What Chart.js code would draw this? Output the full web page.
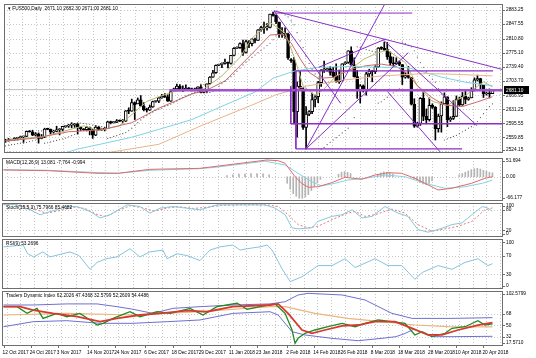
<!DOCTYPE html>
<html>
<head>
<meta charset="utf-8">
<script src="https://cdn.jsdelivr.net/npm/chart.js@4.4.1/dist/chart.umd.min.js"></script>
<style>
  body { margin: 0; background: #fff; width: 536px; height: 358px; overflow: hidden; position: relative; }
  canvas { position: absolute; left: 0; }
</style>
</head>
<body>
<canvas id="cMain" width="536" height="157" style="top:0"></canvas>
<canvas id="cMacd" width="536" height="45" style="top:157px"></canvas>
<canvas id="cStoch" width="536" height="36" style="top:202px"></canvas>
<canvas id="cRsi" width="536" height="52" style="top:238px"></canvas>
<canvas id="cTdi" width="536" height="68" style="top:290px"></canvas>
<script>
// ---- price data (one bar per day, Sunday bars included) ----
const opens = [2552,2551,2553,2554,2557,2559,2561,2562,2575,2574,2565,2569,2557,2560,2581,2580,2573,2575,2579,2580,
  2587,2588,2591,2591,2594,2585,2580,2579,2585,2579,2565,2586,2579,2580,2582,2599,2597,2598,2602,2601,
  2601,2627,2626,2648,2645,2655,2639,2630,2629,2637,2651,2652,2660,2664,2663,2652,2678,2683,2690,2681,
  2679,2685,2683,2680,2683,2688,2674,2678,2696,2713,2724,2743,2745,2748,2751,2748,2768,2786,2788,2798,
  2776,2803,2798,2808,2806,2833,2839,2838,2839,2873,2870,2853,2822,2824,2822,2757,2755,2625,2690,2683,
  2585,2619,2625,2656,2663,2699,2731,2732,2734,2725,2716,2701,2704,2747,2750,2780,2744,2714,2678,2691,
  2680,2721,2728,2727,2739,2787,2786,2783,2765,2749,2747,2752,2745,2713,2717,2712,2644,2588,2595,2659,
  2613,2605,2641,2636,2582,2614,2645,2663,2604,2608,2613,2657,2642,2664,2656,2660,2678,2706,2709,2693,
  2670,2672,2671];
const highs = [2555,2557,2555,2559,2560,2563,2563,2576,2577,2578,2572,2571,2567,2583,2583,2581,2578,2588,2582,2588,
  2589,2593,2597,2595,2595,2587,2582,2588,2586,2580,2590,2588,2581,2585,2601,2601,2600,2605,2604,2605,
  2628,2635,2657,2650,2660,2666,2648,2634,2642,2652,2653,2661,2669,2671,2668,2679,2685,2695,2694,2691,
  2693,2686,2685,2685,2688,2693,2680,2696,2714,2730,2744,2746,2749,2759,2751,2768,2788,2790,2800,2807,
  2807,2806,2811,2812,2834,2842,2853,2849,2873,2878,2871,2853,2839,2838,2825,2760,2763,2701,2727,2686,
  2638,2628,2672,2667,2702,2732,2754,2736,2740,2738,2747,2731,2747,2752,2780,2790,2762,2730,2694,2693,
  2725,2733,2730,2742,2788,2790,2802,2801,2777,2764,2762,2754,2745,2725,2740,2712,2658,2598,2661,2675,
  2632,2660,2645,2638,2619,2650,2673,2663,2612,2653,2665,2662,2674,2680,2662,2686,2711,2718,2710,2694,
  2675,2683,2682];
const lows = [2547,2550,2552,2552,2553,2557,2547,2561,2573,2564,2563,2545,2556,2559,2579,2568,2570,2574,2566,2576,
  2585,2585,2584,2585,2568,2577,2577,2576,2566,2557,2564,2577,2577,2576,2582,2594,2596,2597,2600,2596,
  2600,2620,2626,2605,2645,2639,2627,2624,2628,2636,2649,2648,2659,2661,2651,2651,2677,2682,2680,2676,
  2679,2680,2678,2678,2682,2673,2673,2674,2695,2712,2722,2742,2737,2746,2736,2746,2767,2785,2786,2768,
  2774,2788,2792,2800,2806,2830,2824,2832,2838,2868,2849,2814,2814,2812,2758,2750,2594,2560,2681,2580,
  2530,2615,2620,2637,2648,2689,2725,2728,2718,2713,2700,2697,2703,2745,2748,2743,2713,2659,2647,2675,
  2667,2714,2701,2722,2737,2783,2780,2758,2744,2741,2745,2742,2694,2710,2710,2642,2585,2586,2590,2602,
  2594,2601,2633,2553,2573,2573,2645,2587,2600,2605,2613,2640,2641,2645,2654,2660,2678,2703,2681,2661,
  2667,2660,2671];
const closes = [2551,2553,2554,2557,2559,2561,2562,2575,2574,2565,2569,2557,2560,2581,2580,2573,2575,2579,2580,2588,
  2588,2591,2591,2594,2585,2582,2579,2585,2579,2565,2586,2579,2580,2582,2599,2597,2598,2602,2601,2601,
  2627,2626,2648,2642,2655,2639,2630,2629,2637,2651,2652,2660,2664,2663,2652,2676,2683,2690,2681,2679,
  2685,2683,2680,2683,2688,2674,2678,2696,2713,2724,2743,2745,2748,2751,2748,2768,2786,2788,2798,2776,
  2803,2798,2810,2806,2833,2839,2838,2839,2873,2870,2853,2822,2824,2822,2762,2755,2625,2690,2683,2585,
  2619,2625,2656,2663,2699,2731,2732,2734,2725,2716,2701,2704,2747,2750,2780,2744,2714,2678,2691,2680,
  2721,2728,2727,2739,2787,2786,2783,2765,2749,2747,2752,2745,2713,2717,2712,2644,2588,2595,2659,2613,
  2605,2641,2636,2582,2614,2645,2663,2604,2608,2613,2657,2642,2664,2656,2660,2678,2706,2709,2693,2670,
  2672,2670,2681];
const sar = [2538,2540,2541,2542,2544,2545,2545,2547,2549,2551,2553,2576,2576,2545,2546,2548,2550,2552,2554,2556,
  2558,2561,2564,2567,2597,2596,2595,2594,2593,2591,2589,2588,2587,2586,2557,2559,2562,2564,2567,2569,
  2572,2577,2583,2590,2597,2604,2610,2615,2620,2624,2628,2631,2634,2638,2641,2644,2648,2652,2657,2661,
  2665,2668,2671,2674,2676,2695,2694,2673,2674,2677,2682,2689,2696,2702,2708,2714,2720,2728,2736,2744,
  2751,2757,2763,2769,2775,2781,2787,2793,2799,2808,2818,2878,2875,2871,2866,2856,2846,2826,2805,2788,
  2766,2748,2733,2721,2710,2530,2534,2541,2547,2553,2559,2565,2571,2577,2583,2595,2610,2790,2788,2786,
  2783,2781,2779,2777,2647,2650,2656,2662,2668,2673,2678,2683,2802,2798,2794,2790,2780,2764,2750,2738,
  2727,2717,2708,2700,2684,2670,2553,2556,2559,2562,2565,2569,2574,2578,2583,2587,2592,2600,2610,2620,
  2630,2638,2645];

// moving averages: [bar index, price]
const maFast = [[0,2552],[13,2562],[26,2589],[31,2577],[38,2589],[41,2611],[47,2651],[51,2663],[56,2676],[66,2683],
  [72,2716],[78,2763],[82,2812],[88,2852],[93,2825],[96,2765],[99,2691],[103,2666],[106,2683],[110,2716],
  [115,2733],[119,2758],[124,2775],[127,2782],[133,2750],[137,2691],[142,2651],[147,2641],[153,2666],[159,2701],[162,2688]];
const maMid = [[0,2550],[10,2558],[21,2574],[32,2579],[42,2597],[51,2634],[62,2670],[67,2680],[73,2703],[83,2780],
  [88,2820],[92,2822],[95,2800],[98,2760],[101,2725],[104,2710],[109,2712],[115,2733],[120,2742],[125,2746],
  [130,2740],[134,2720],[137,2691],[142,2660],[146,2642],[152,2638],[157,2650],[162,2663]];
const maSlow = [[18,2516],[24,2530],[32,2543],[42,2560],[51,2580],[62,2605],[73,2642],[83,2675],[89,2710],[96,2728],
  [104,2738],[115,2740],[125,2738],[134,2737],[145,2713],[153,2700],[162,2691]];
const maLong = [[30,2516],[51,2542],[65,2589],[83,2645],[90,2668],[100,2690],[112,2705],[125,2716],[140,2722],[150,2720],[162,2716]];

// drawn objects: [index1, price1, index2, price2, width]
const trendLines = [
  [89.4,2875.8,135.3,2875.8,1], [89.3,2881.5,165.5,2732,1], [89.3,2881.5,111.5,2646.3,1],
  [99.9,2530,126.4,2902,1], [99.9,2530,134,2775,1], [104.2,2737.9,126.4,2809.7,1],
  [125.7,2807.2,156.9,2589.4,1], [127.1,2676,144.6,2522.7,1],
  [96.6,2728.7,162.2,2728.7,1.3], [94.9,2594.3,165.5,2594.3,1.3], [96.6,2530.6,151.9,2530.6,1.3],
  [96.6,2728.7,96.6,2530.6,1], [94.9,2690,94.9,2594.3,1],
  [54.5,2679.7,165.5,2679.7,2.6]
];
const bidPrice = 2681.10;
const priceTicks = [2883.25,2847.55,2810.80,2775.10,2739.40,2703.70,2666.95,2631.25,2595.55,2559.85,2524.15];

// MACD
const macdMain = [[0,20.9],[15,18.8],[31,10.8],[38,10.8],[48.5,23],[65,26],[69.4,31],[87.3,51.7],[91,49.5],[93.3,41.5],
  [96.6,0.3],[98.8,-20],[101,-32.3],[104.2,-30.5],[108.7,-18.2],[113.2,-1.5],[118.7,-7.7],[123.1,5.5],[127.4,12.6],
  [131.9,10.8],[136.3,-4.6],[140.7,-25.2],[144,-40.6],[148.5,-35.4],[155.1,-20],[159.5,-4.6],[162,0.3]];
const macdSignal = [[0,22],[15,20],[31,13],[38,11],[48.5,20],[65,25],[70,29],[86.6,48],[93.3,36.3],[97.6,10.8],
  [102.1,-15],[105.4,-28.3],[109.8,-20],[114.1,-9.8],[119.8,-4.6],[126.4,5.5],[133,0.3],[139.7,-20],[146.3,-35.4],
  [152.9,-30.5],[158.6,-20],[162,-9.8]];
const macdHist = [[74,4],[76,6],[78,8],[80,8],[82,10],[84,10],[86,9],[88,6],
  [94,-20],[95,-38],[96,-52],[97,-60],[98,-66],[99,-66],[100,-62],[101,-55],[102,-42],[103,-30],[104,-18],[105,-8],
  [111,8],[112,14],[113,16],[114,14],[115,10],[124,8],[125,12],[126,15],[127,14],[128,12],[129,8],
  [136,-6],[137,-12],[138,-18],[139,-22],[140,-24],[141,-20],[142,-12],
  [151,6],[152,10],[153,14],[154,18],[155,22],[156,25],[157,26],[158,24],[159,20],[160,17],[161,14],[162,12]];
const macdTicks = [51.694, 0, -66.177];

// Stochastic
const stochMain = [[0,96],[4,96],[8.8,80],[12.1,65.5],[21,89.6],[24.4,89.6],[28.7,75],[32,56],[35.3,65.5],[40.9,94.5],
  [45.2,89.6],[48.5,70.4],[51.9,84.9],[56.2,89.6],[65.1,80],[70.7,94.5],[76,94.5],[86.6,94.5],[90,84.9],[93.3,65.5],
  [95.6,27],[97.6,24],[102.2,27],[104.2,46],[108.8,60.6],[112.2,65.5],[115.5,80],[118.8,56],[122.1,60.6],[126.4,89.6],
  [130.7,70.4],[134,60.6],[137.3,22],[140.7,14.2],[144,22],[148.6,36.5],[151.9,41.4],[155.2,65.5],[158.6,89.6],[160.5,84.9],[162,75.8]];
const stochSignal = [[0,95],[5,95],[10,84],[14,70],[19,78],[23,88],[27,84],[31,66],[34,60],[38,78],[42,92],[46,86],[50,76],
  [54,85],[58,89],[63,84],[68,88],[72,93],[80,95],[88,94],[91,89.6],[94.3,65.5],[97.6,36.5],[100.9,27],[104.2,31.6],
  [108.8,51],[114.1,70.4],[116.5,75],[119.8,60.6],[123.1,65.5],[128.7,82],[133,70.4],[137.3,36.5],[142,17],[146.3,24],
  [150.6,31.6],[155.2,46],[159.5,80],[162,85.5]];

// RSI
const rsiLine = [[0,90],[6.5,94],[8,75],[10,68],[13,79],[15.4,68],[22,79],[25,71],[28.7,41],[31,56],[34,64],[37.6,68],
  [41.9,86],[45.2,68],[48.5,79],[52.8,83],[54.2,64],[57.5,75],[60.8,71],[65.1,60],[68.4,83],[71.7,90],[76,94],[78.4,83],
  [80.7,86],[85,90],[87.3,94],[89,83],[92.3,42],[95,14],[99,25],[104.2,49],[108.8,49],[113.2,64],[116.5,45],[123.1,64],
  [127.4,49],[132,49],[136.3,19],[138.7,34],[144,49],[148.6,41],[152.9,56],[157.2,64],[160.5,49],[162,53.3]];

// Traders Dynamic Index
const tdiUpper = [[0,82.3],[9.8,82.3],[21,84],[31,84],[37.6,79.6],[42.9,75.5],[49.5,69],[56.2,77],[65.1,79.6],[76,82.3],
  [88.3,84],[93.3,87.5],[97.6,98.2],[100.9,100.8],[112.2,98.2],[119.8,90.2],[128.7,69],[135.4,61],[148.6,61],[162,62.2]];
const tdiLower = [[0,47.8],[9.8,55.8],[21,57.4],[32,53.2],[42.9,53.2],[54.2,55.8],[65.1,58.5],[76,69],[88.3,71.6],[91,66.4],
  [95.6,39.9],[99.9,34.7],[108.8,29.4],[117.5,25.6],[125.4,29.4],[130,32],[133,37],[136,44],[139,38],[142,32],[148.6,32],[162,32.6]];
const tdiBase = [[0,66.4],[21,69],[42.9,66.4],[65.1,71.6],[88.3,79.6],[93.3,79.6],[103.2,69],[114.1,61],[125.4,55.8],
  [136.3,50.5],[147.3,47.8],[162,47.4]];
const tdiPrice = [[0,79.6],[4.5,79.6],[7.8,69],[11.1,77],[13.1,61],[17.7,69],[21,63.7],[25.3,69],[28.7,58.5],[31,50.5],
  [33,53.2],[36.3,61],[41.9,71.6],[45.2,63.7],[50.9,71.6],[55.2,69],[61.8,77],[66.1,66.4],[70.7,79.6],[77.4,85],[80.7,75.5],
  [85,79.6],[88.3,82.3],[90,84],[93.3,69],[95.6,42.6],[96.6,21.5],[97.6,29.4],[99.9,37.4],[103.2,42.6],[107.5,47.8],
  [112.2,53.2],[116.5,47.8],[119.8,53.2],[124.1,58.5],[128.7,55.8],[133,53.2],[136.3,34.7],[138.7,39.9],[142,32],
  [146.3,37.4],[148.6,45.3],[152.9,47.8],[157.2,57.4],[159.5,50.5],[162,52.3]];
const tdiSignal = [[0,79.6],[5.5,79.6],[9.8,74.3],[16.4,69],[24.4,63.7],[32,55.8],[37.6,61],[45.2,66.4],[51.9,69],[60.8,73.2],
  [67.4,71.6],[76,79.6],[88.3,82.3],[91,84],[94.3,69],[98.9,42.6],[102.2,37.4],[106.5,42.6],[112.2,49],[117.5,50.5],
  [123.1,55.8],[129.7,55.8],[135.4,45.3],[140.7,34.7],[145.3,34.7],[150.6,42.6],[157.2,50.5],[160.5,53.2],[162,54.4]];

const dateLabels = ['12 Oct 2017','24 Oct 2017','3 Nov 2017','14 Nov 2017','24 Nov 2017','6 Dec 2017','18 Dec 2017',
  '29 Dec 2017','11 Jan 2018','23 Jan 2018','2 Feb 2018','14 Feb 2018','26 Feb 2018','8 Mar 2018','18 Mar 2018',
  '28 Mar 2018','10 Apr 2018','20 Apr 2018'];
const dateIdx = [0,9,18,28,37,47,56,65,75,84,94,103,112,122,131,141,150,159];

const FONT = '4.8px "Liberation Sans", Arial, sans-serif';
const X_MIN = -0.5, X_MAX = 165.5;

// vertical grid at every date label and halfway between
const vGrid = [];
dateIdx.forEach((d, k) => {
  vGrid.push(d + 1);
  const next = k < dateIdx.length - 1 ? dateIdx[k + 1] : d + 9;
  vGrid.push((d + next) / 2 + 1);
});

const mt4 = {
  id: 'mt4',
  beforeDatasetsDraw(chart, args, o) {
    const { ctx, chartArea: a, scales: { x, y } } = chart;
    ctx.save();
    ctx.strokeStyle = '#c8c8c8';
    ctx.lineWidth = 1;
    ctx.setLineDash([1, 2]);
    ctx.beginPath();
    vGrid.forEach(i => {
      const px = Math.round(x.getPixelForValue(i)) + 0.5;
      if (px > a.left && px < a.right) { ctx.moveTo(px, a.top); ctx.lineTo(px, a.bottom); }
    });
    (o.hgrid || []).forEach(v => {
      const py = Math.round(y.getPixelForValue(v)) + 0.5;
      ctx.moveTo(a.left, py); ctx.lineTo(a.right, py);
    });
    ctx.stroke();
    ctx.restore();
  },
  afterDatasetsDraw(chart, args, o) {
    const { ctx, chartArea: a, scales: { x, y } } = chart;
    ctx.save();
    ctx.strokeStyle = '#6e6e6e';
    ctx.lineWidth = 1;
    ctx.strokeRect(a.left + 0.5, a.top + 0.5, a.right - a.left - 1, a.bottom - a.top - 1);
    ctx.font = FONT;
    ctx.fillStyle = '#000';
    ctx.textBaseline = 'middle';
    ctx.textAlign = 'left';
    (o.ticks || []).forEach(v => {
      let py = y.getPixelForValue(v);
      py = Math.min(Math.max(py, a.top + 3), a.bottom - 3);
      ctx.fillText(o.fmt(v), a.right + 3, py);
      ctx.beginPath();
      ctx.moveTo(a.right, Math.round(py) + 0.5); ctx.lineTo(a.right + 2, Math.round(py) + 0.5);
      ctx.stroke();
    });
    if (o.title) ctx.fillText(o.title, a.left + 4, a.top + 5);
    if (o.tag != null) {
      const py = Math.round(y.getPixelForValue(o.tag));
      ctx.fillStyle = '#000';
      ctx.fillRect(a.right + 1, py - 4, 25, 8);
      ctx.fillStyle = '#fff';
      ctx.fillText(o.fmt(o.tag), a.right + 3, py + 0.5);
    }
    if (o.dates) {
      ctx.fillStyle = '#000';
      ctx.textBaseline = 'top';
      dateLabels.forEach((t, k) => {
        const px = x.getPixelForValue(dateIdx[k]);
        ctx.fillText(t, px - 1, a.bottom + 4);
        ctx.beginPath();
        ctx.moveTo(Math.round(px) + 0.5, a.bottom); ctx.lineTo(Math.round(px) + 0.5, a.bottom + 2);
        ctx.stroke();
      });
    }
    ctx.restore();
  }
};
Chart.register(mt4);

function lineDs(points, color, width, extra) {
  return Object.assign({
    type: 'line',
    data: points.map(p => ({ x: p[0], y: p[1] })),
    borderColor: color, borderWidth: width, pointRadius: 0, tension: 0, fill: false, order: 5
  }, extra || {});
}

function baseOptions(pad, yMin, yMax, plug) {
  return {
    responsive: false, animation: false, events: [],
    devicePixelRatio: 1,
    layout: { padding: { left: 2, right: 33, top: pad[0], bottom: pad[1] } },
    plugins: { legend: { display: false }, tooltip: { enabled: false }, mt4: plug },
    scales: {
      x: { type: 'linear', min: X_MIN, max: X_MAX, display: false, offset: false },
      y: { type: 'linear', min: yMin, max: yMax, display: false }
    }
  };
}

// ---- main price chart ----
const wickData = highs.map((h, i) => ({ x: i, y: [lows[i], h] }));
const bodyData = opens.map((o, i) => ({ x: i, y: [o, closes[i]] }));
const bodyFill = opens.map((o, i) => closes[i] >= o ? '#ffffff' : '#000000');

const mainSets = [
  { type: 'bar', data: wickData, backgroundColor: '#000', barThickness: 1, grouped: false, order: 10 },
  { type: 'bar', data: bodyData, backgroundColor: bodyFill, borderColor: '#000', borderWidth: 1,
    borderSkipped: false, barThickness: 3, minBarLength: 1, grouped: false, order: 9 },
  lineDs(maLong, '#e9b48e', 1),
  lineDs(maSlow, '#7fd3e4', 1),
  lineDs(maMid, '#c96a6a', 1),
  lineDs(maFast, '#b8b66c', 1),
  lineDs(sar.map((v, i) => [i, v]), '#000', 0, { showLine: false, pointRadius: 0.6, pointBackgroundColor: '#555', pointBorderWidth: 0, order: 4 }),
  lineDs([[X_MIN, bidPrice], [X_MAX, bidPrice]], '#bdbdbd', 1, { order: 6 })
];
trendLines.forEach(t => {
  mainSets.push(lineDs([[t[0], t[1]], [t[2], t[3]]], t[4] > 2 ? '#a44fd0' : '#8a2fc8', t[4], { order: 1 }));
});

new Chart(document.getElementById('cMain'), {
  type: 'bar',
  data: { datasets: mainSets },
  options: baseOptions([3, 1], 2519.94, 2898.85, {
    hgrid: priceTicks, ticks: priceTicks, fmt: v => v.toFixed(2), tag: bidPrice,
    title: '\u25BE FUS500,Daily  2671.10 2682.30 2671.00 2681.10'
  })
});

// ---- MACD ----
new Chart(document.getElementById('cMacd'), {
  type: 'bar',
  data: { datasets: [
    { type: 'bar', data: macdHist.map(p => ({ x: p[0], y: p[1] })), backgroundColor: '#b4b4b4', barThickness: 1, grouped: false, order: 9 },
    lineDs(macdSignal, '#86d2e2', 1),
    lineDs(macdMain, '#e06a6a', 1, { order: 4 })
  ] },
  options: baseOptions([1, 1], -74.46, 57.85, {
    hgrid: [0], ticks: macdTicks, fmt: v => v === 0 ? '0.00' : v.toFixed(3),
    title: 'MACD(12,26,9) 13.081 -7.764 -0.994'
  })
});

// ---- Stochastic ----
new Chart(document.getElementById('cStoch'), {
  type: 'line',
  data: { datasets: [
    lineDs(stochSignal, '#e07a7a', 1, { borderDash: [2, 2] }),
    lineDs(stochMain, '#86c8da', 1, { order: 4 })
  ] },
  options: baseOptions([1, 1], 0, 100, {
    hgrid: [80, 20], ticks: [100, 80, 20, 0], fmt: v => String(v),
    title: 'Stoch(15,5,3) 75.7966 85.4682'
  })
});

// ---- RSI ----
new Chart(document.getElementById('cRsi'), {
  type: 'line',
  data: { datasets: [ lineDs(rsiLine, '#86c3dc', 1) ] },
  options: baseOptions([1, 1], -2.1, 107.2, {
    hgrid: [70, 30], ticks: [100, 70, 30, 0], fmt: v => String(v),
    title: 'RSI(9) 53.2696'
  })
});

// ---- Traders Dynamic Index ----
new Chart(document.getElementById('cTdi'), {
  type: 'line',
  data: { datasets: [
    lineDs(tdiUpper, '#6f6fd0', 1),
    lineDs(tdiLower, '#6f6fd0', 1),
    lineDs(tdiBase, '#ebb57c', 1.2),
    lineDs(tdiPrice, '#1f8a1f', 1.3, { order: 3 }),
    lineDs(tdiSignal, '#d63a2e', 1.8, { order: 2 })
  ] },
  options: baseOptions([1, 12], 17.2, 104.5, {
    hgrid: [68, 50, 32], ticks: [102.5799, 68, 50, 32, 17.571],
    fmt: v => (v === 102.5799 ? '102.5799' : v === 17.571 ? '17.5710' : String(v)),
    title: 'Traders Dynamic Index 62.2026 47.4368 32.5799 52.2609 54.4486', dates: true
  })
});
</script>
</body>
</html>
